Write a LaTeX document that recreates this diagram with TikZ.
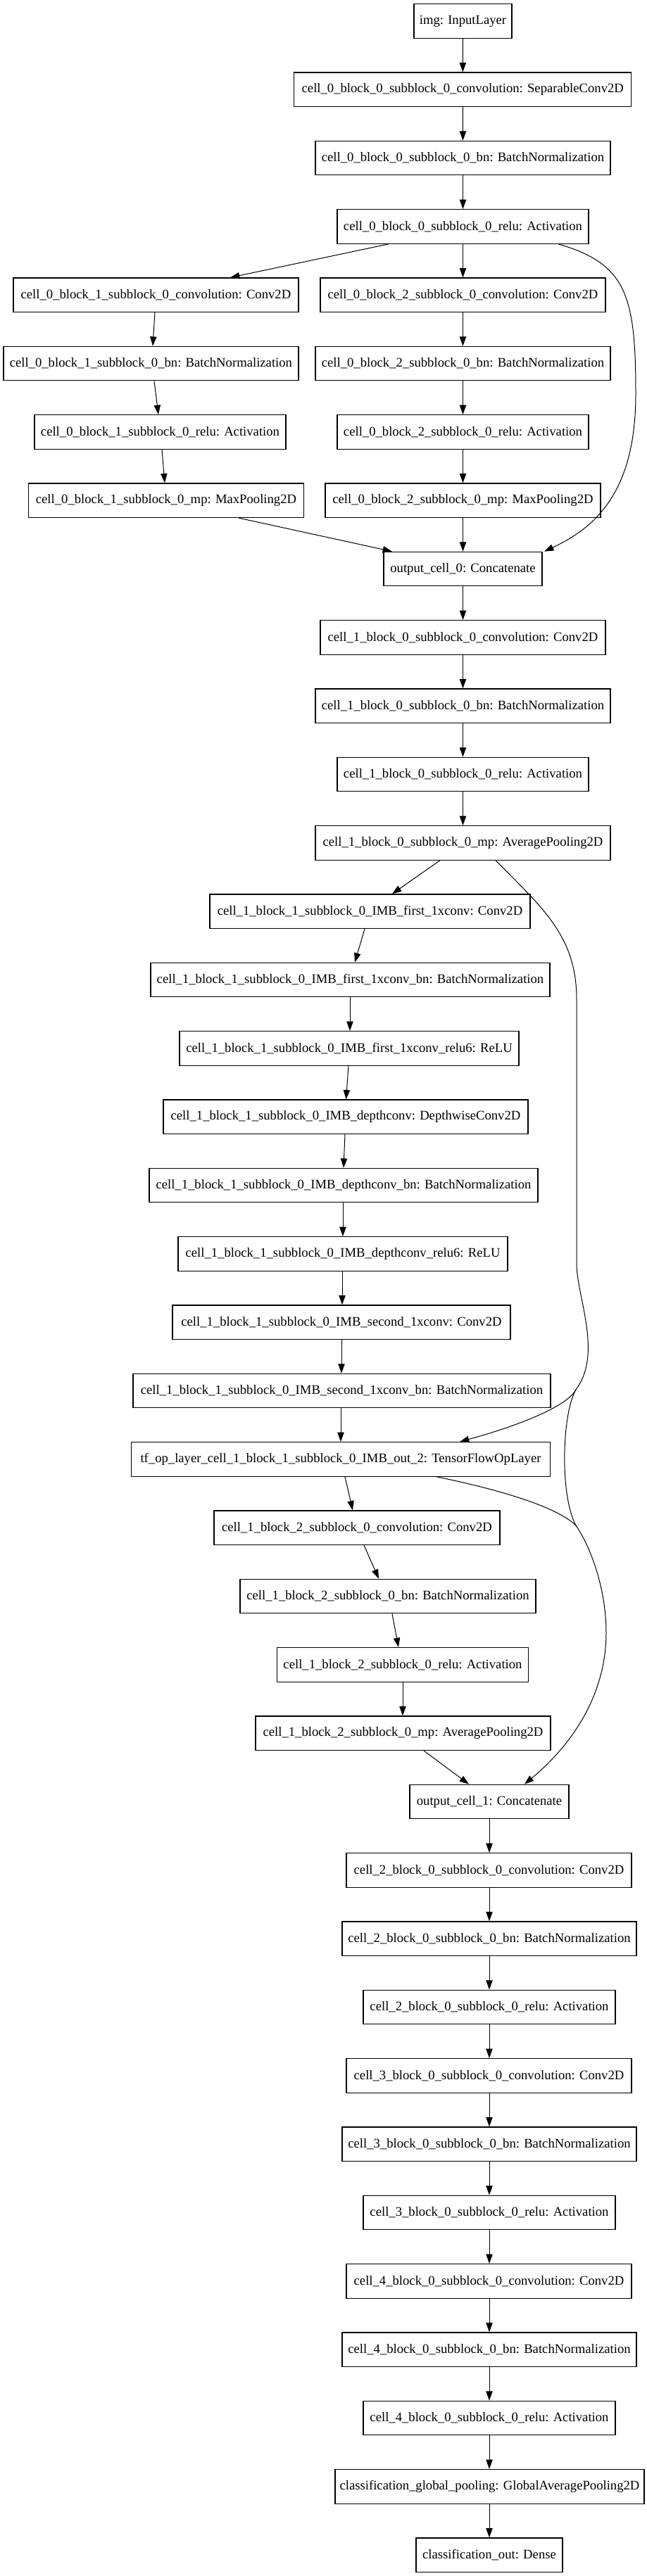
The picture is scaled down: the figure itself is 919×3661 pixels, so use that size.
\documentclass[tikz,border=0pt]{standalone}
\usepackage{fontspec}
\setmainfont{Liberation Serif}
\usetikzlibrary{arrows.meta,calc}
\begin{document}
\begin{tikzpicture}[x=0.75pt,y=-0.75pt,
  layer/.style={draw, line width=0.9pt, rectangle, inner sep=0pt,
    minimum height=36.4pt, font=\fontsize{14}{16}\selectfont, anchor=center},
  bw/.style={minimum width=#1*0.75pt},
  conn/.style={line width=0.75pt, -{Triangle[length=10pt,width=7pt]}},
  link/.style={line width=0.75pt}]
\useasboundingbox (0,0) rectangle (919,3661);
% ---- cell 0
\node[layer,bw=139] (img) at (657.5,29.95) {img: InputLayer};
\node[layer,bw=479] (sep0) at (657.3,127.28) {cell\_0\_block\_0\_subblock\_0\_convolution: SeparableConv2D};
\node[layer,bw=419] (bn0) at (657.5,224.61) {cell\_0\_block\_0\_subblock\_0\_bn: BatchNormalization};
\node[layer,bw=357] (relu0) at (657.5,321.94) {cell\_0\_block\_0\_subblock\_0\_relu: Activation};
\node[layer,bw=405] (lconv) at (221.4,419.27) {cell\_0\_block\_1\_subblock\_0\_convolution: Conv2D};
\node[layer,bw=405] (rconv) at (657.5,419.27) {cell\_0\_block\_2\_subblock\_0\_convolution: Conv2D};
\node[layer,bw=419] (lbn) at (214.4,516.60) {cell\_0\_block\_1\_subblock\_0\_bn: BatchNormalization};
\node[layer,bw=419] (rbn) at (657.5,516.60) {cell\_0\_block\_2\_subblock\_0\_bn: BatchNormalization};
\node[layer,bw=357] (lrelu) at (227.5,613.93) {cell\_0\_block\_1\_subblock\_0\_relu: Activation};
\node[layer,bw=357] (rrelu) at (657.5,613.93) {cell\_0\_block\_2\_subblock\_0\_relu: Activation};
\node[layer,bw=391] (lmp) at (236,711.26) {cell\_0\_block\_1\_subblock\_0\_mp: MaxPooling2D};
\node[layer,bw=391] (rmp) at (657.5,711.26) {cell\_0\_block\_2\_subblock\_0\_mp: MaxPooling2D};
\node[layer,bw=225] (oc0) at (657.5,808.59) {output\_cell\_0: Concatenate};
% ---- cell 1
\node[layer,bw=405] (c1conv) at (657.5,905.92) {cell\_1\_block\_0\_subblock\_0\_convolution: Conv2D};
\node[layer,bw=419] (c1bn) at (657.5,1003.25) {cell\_1\_block\_0\_subblock\_0\_bn: BatchNormalization};
\node[layer,bw=357] (c1relu) at (657.5,1100.58) {cell\_1\_block\_0\_subblock\_0\_relu: Activation};
\node[layer,bw=419] (c1mp) at (657.5,1197.91) {cell\_1\_block\_0\_subblock\_0\_mp: AveragePooling2D};
\node[layer,bw=455] (fconv) at (525.5,1295.24) {cell\_1\_block\_1\_subblock\_0\_IMB\_first\_1xconv: Conv2D};
\node[layer,bw=567] (fbn) at (497.5,1392.57) {cell\_1\_block\_1\_subblock\_0\_IMB\_first\_1xconv\_bn: BatchNormalization};
\node[layer,bw=482] (frelu) at (496,1489.90) {cell\_1\_block\_1\_subblock\_0\_IMB\_first\_1xconv\_relu6: ReLU};
\node[layer,bw=518] (dconv) at (491,1587.23) {cell\_1\_block\_1\_subblock\_0\_IMB\_depthconv: DepthwiseConv2D};
\node[layer,bw=552] (dbn) at (488,1684.56) {cell\_1\_block\_1\_subblock\_0\_IMB\_depthconv\_bn: BatchNormalization};
\node[layer,bw=468] (drelu) at (487,1781.89) {cell\_1\_block\_1\_subblock\_0\_IMB\_depthconv\_relu6: ReLU};
\node[layer,bw=480] (sconv) at (485,1879.22) {cell\_1\_block\_1\_subblock\_0\_IMB\_second\_1xconv: Conv2D};
\node[layer,bw=593] (sbn) at (485.5,1976.55) {cell\_1\_block\_1\_subblock\_0\_IMB\_second\_1xconv\_bn: BatchNormalization};
\node[layer,bw=595] (tf) at (484,2073.88) {tf\_op\_layer\_cell\_1\_block\_1\_subblock\_0\_IMB\_out\_2: TensorFlowOpLayer};
\node[layer,bw=406] (b2conv) at (507,2171.21) {cell\_1\_block\_2\_subblock\_0\_convolution: Conv2D};
\node[layer,bw=420] (b2bn) at (551,2268.54) {cell\_1\_block\_2\_subblock\_0\_bn: BatchNormalization};
\node[layer,bw=357] (b2relu) at (572,2365.87) {cell\_1\_block\_2\_subblock\_0\_relu: Activation};
\node[layer,bw=419] (b2mp) at (572.5,2463.20) {cell\_1\_block\_2\_subblock\_0\_mp: AveragePooling2D};
\node[layer,bw=226] (oc1) at (695,2560.53) {output\_cell\_1: Concatenate};
% ---- cells 2-4
\node[layer,bw=405] (c2conv) at (694.5,2657.86) {cell\_2\_block\_0\_subblock\_0\_convolution: Conv2D};
\node[layer,bw=418] (c2bn) at (695,2755.19) {cell\_2\_block\_0\_subblock\_0\_bn: BatchNormalization};
\node[layer,bw=358] (c2relu) at (695,2852.52) {cell\_2\_block\_0\_subblock\_0\_relu: Activation};
\node[layer,bw=405] (c3conv) at (694.5,2949.85) {cell\_3\_block\_0\_subblock\_0\_convolution: Conv2D};
\node[layer,bw=418] (c3bn) at (695,3047.18) {cell\_3\_block\_0\_subblock\_0\_bn: BatchNormalization};
\node[layer,bw=358] (c3relu) at (695,3144.51) {cell\_3\_block\_0\_subblock\_0\_relu: Activation};
\node[layer,bw=405] (c4conv) at (694.5,3241.84) {cell\_4\_block\_0\_subblock\_0\_convolution: Conv2D};
\node[layer,bw=418] (c4bn) at (695,3339.17) {cell\_4\_block\_0\_subblock\_0\_bn: BatchNormalization};
\node[layer,bw=358] (c4relu) at (695,3436.50) {cell\_4\_block\_0\_subblock\_0\_relu: Activation};
\node[layer,bw=439] (gp) at (695.5,3533.83) {classification\_global\_pooling: GlobalAveragePooling2D};
\node[layer,bw=208] (out) at (695,3631.16) {classification\_out: Dense};
% junctions of the merged residual paths
\coordinate (j1) at (818,1975);
\coordinate (j2) at (818,2168);
% ---- connectors cell 0
\draw[conn] (img.south) -- (sep0.north);
\draw[conn] (sep0.south) -- (bn0.north);
\draw[conn] (bn0.south) -- (relu0.north);
\draw[conn] ($(relu0.south)+(-105.5,0)$) -- ($(lconv.north)+(105.6,0)$);
\draw[conn] (relu0.south) -- (rconv.north);
\draw[conn] ($(relu0.south)+(135.5,0)$) .. controls (890,375) and (903,420) .. (903,560)
   .. controls (903,700) and (845,750) .. ($(oc0.north)+(115.5,0)$);
\draw[conn] ($(lconv.south)+(-1.4,0)$) -- ($(lbn.north)+(2.6,0)$);
\draw[conn] ($(lbn.south)+(4.6,0)$) -- ($(lrelu.north)+(-2.5,0)$);
\draw[conn] ($(lrelu.south)+(2.5,0)$) -- ($(lmp.north)+(-2,0)$);
\draw[conn] (rconv.south) -- (rbn.north);
\draw[conn] (rbn.south) -- (rrelu.north);
\draw[conn] (rrelu.south) -- (rmp.north);
\draw[conn] ($(lmp.south)+(103,0)$) -- ($(oc0.north)+(-100.5,0)$);
\draw[conn] (rmp.south) -- (oc0.north);
% ---- connectors cell 1
\draw[conn] (oc0.south) -- (c1conv.north);
\draw[conn] (c1conv.south) -- (c1bn.north);
\draw[conn] (c1bn.south) -- (c1relu.north);
\draw[conn] (c1relu.south) -- (c1mp.north);
\draw[conn] ($(c1mp.south)+(-32.5,0)$) -- ($(fconv.north)+(31.5,0)$);
\draw[conn] ($(fconv.south)+(-7.5,0)$) -- ($(fbn.north)+(6.5,0)$);
\draw[conn] ($(fbn.south)+(-0.5,0)$) -- ($(frelu.north)+(1,0)$);
\draw[conn] ($(frelu.south)+(-1,0)$) -- ($(dconv.north)+(0.5,0)$);
\draw[conn] ($(dconv.south)+(-1,0)$) -- (dbn.north);
\draw[conn] ($(dbn.south)+(-1,0)$) -- (drelu.north);
\draw[conn] ($(drelu.south)+(-1,0)$) -- ($(sconv.north)+(1,0)$);
\draw[conn] (sconv.south) -- ($(sbn.north)+(-0.5,0)$);
\draw[conn] ($(sbn.south)+(-1.5,0)$) -- (tf.north);
\draw[link] ($(c1mp.south)+(46.5,0)$) .. controls (770,1290) and (819,1330) .. (819,1420)
   -- (819,1800) .. controls (822,1850) and (855,1925) .. (j1);
\draw[conn] (j1) .. controls (805,2000) and (730,2028) .. ($(tf.north)+(169,0)$);
\draw[link] (j1) .. controls (798,2010) and (795,2125) .. (j2);
\draw[link] ($(tf.south)+(136,0)$) .. controls (700,2115) and (790,2140) .. (j2);
\draw[conn] (j2) .. controls (840,2200) and (861,2260) .. (861,2320)
   .. controls (861,2420) and (800,2490) .. ($(oc1.north)+(50,0)$);
\draw[conn] ($(tf.south)+(6,0)$) -- ($(b2conv.north)+(-6,0)$);
\draw[conn] ($(b2conv.south)+(10,0)$) -- ($(b2bn.north)+(-13,0)$);
\draw[conn] ($(b2bn.south)+(6,0)$) -- ($(b2relu.north)+(-6,0)$);
\draw[conn] (b2relu.south) -- ($(b2mp.north)+(-0.5,0)$);
\draw[conn] ($(b2mp.south)+(29.5,0)$) -- ($(oc1.north)+(-29,0)$);
% ---- connectors cells 2-4
\draw[conn] (oc1.south) -- ($(c2conv.north)+(0.5,0)$);
\draw[conn] ($(c2conv.south)+(0.5,0)$) -- (c2bn.north);
\draw[conn] (c2bn.south) -- (c2relu.north);
\draw[conn] (c2relu.south) -- ($(c3conv.north)+(0.5,0)$);
\draw[conn] ($(c3conv.south)+(0.5,0)$) -- (c3bn.north);
\draw[conn] (c3bn.south) -- (c3relu.north);
\draw[conn] (c3relu.south) -- ($(c4conv.north)+(0.5,0)$);
\draw[conn] ($(c4conv.south)+(0.5,0)$) -- (c4bn.north);
\draw[conn] (c4bn.south) -- (c4relu.north);
\draw[conn] (c4relu.south) -- ($(gp.north)+(-0.5,0)$);
\draw[conn] ($(gp.south)+(-0.5,0)$) -- (out.north);
\end{tikzpicture}
\end{document}
